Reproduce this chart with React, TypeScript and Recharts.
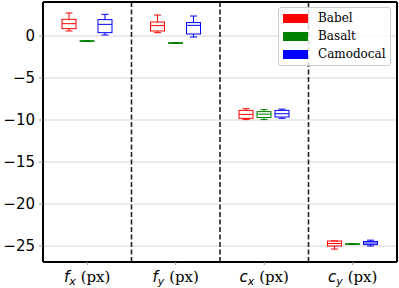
import { ComposedChart, Bar, XAxis, YAxis, CartesianGrid, Legend } from 'recharts';

// category labels: symbol + subscript
const categories = ['fx', 'fy', 'cx', 'cy'];
const yTicks = [0, -5, -10, -15, -20, -25];
const yDomain = [-26.9, 4.05];

// [whisker low, q1, median, q3, whisker high] per category
const babel = [
  [0.6, 0.88, 1.47, 1.99, 2.74],
  [0.4, 0.6, 1.24, 1.67, 2.5],
  [-9.95, -9.8, -9.33, -8.85, -8.65],
  [-25.36, -25.0, -24.7, -24.4, -24.4],
];
const basalt = [
  [-0.66, -0.63, -0.6, -0.57, -0.54],
  [-0.88, -0.85, -0.83, -0.81, -0.78],
  [-9.95, -9.7, -9.3, -9.0, -8.76],
  [-24.8, -24.78, -24.76, -24.74, -24.72],
];
const camodocal = [
  [0.12, 0.4, 1.39, 1.95, 2.58],
  [-0.12, 0.24, 1.27, 1.6, 2.38],
  [-9.8, -9.64, -9.25, -8.85, -8.7],
  [-25.0, -24.83, -24.64, -24.45, -24.3],
];

const series = [
  { key: 'babel', name: 'Babel', color: '#ff0000', stats: babel },
  { key: 'basalt', name: 'Basalt', color: '#008000', stats: basalt },
  { key: 'camodocal', name: 'Camodocal', color: '#0000ff', stats: camodocal },
];

const data = categories.map((name, i) => {
  const row: any = { name };
  series.forEach((s) => {
    const st = s.stats[i];
    row[s.key] = [st[0], st[4]];
    row[s.key + 'Stats'] = st;
  });
  return row;
});

function BoxShape(props: any) {
  const { x, y, width, height, payload, statsKey, color } = props;
  const st = payload[statsKey];
  const top = Math.min(y, y + height);
  const bot = Math.max(y, y + height);
  const span = st[4] - st[0];
  const py = (v: number) => (span === 0 ? top : top + ((st[4] - v) / span) * (bot - top));
  const cx = x + width / 2;
  const cap = width / 4;
  return (
    <g stroke={color} strokeWidth={1} fill="none">
      <line x1={cx} x2={cx} y1={py(st[4])} y2={py(st[3])} />
      <line x1={cx} x2={cx} y1={py(st[1])} y2={py(st[0])} />
      <line x1={cx - cap} x2={cx + cap} y1={py(st[4])} y2={py(st[4])} />
      <line x1={cx - cap} x2={cx + cap} y1={py(st[0])} y2={py(st[0])} />
      <rect x={x} y={py(st[3])} width={width} height={Math.max(py(st[1]) - py(st[3]), 0.5)} />
      <line x1={x} x2={x + width} y1={py(st[2])} y2={py(st[2])} />
    </g>
  );
}

function XTick(props: any) {
  const { x, y, payload } = props;
  const label: string = payload.value;
  return (
    <text x={x} y={y + 15} textAnchor="middle" fontSize={15} fill="#000">
      <tspan fontFamily="DejaVu Sans" fontStyle="italic">{label[0]}</tspan>
      <tspan fontFamily="DejaVu Sans" fontStyle="italic" fontSize={11} dy={3}>{label[1]}</tspan>
      <tspan fontFamily="DejaVu Serif" dy={-3}>{' (px)'}</tspan>
    </text>
  );
}

const fmt = (v: number) => (v < 0 ? '\u2212' + Math.abs(v) : String(v));

function LegendBox({ payload }: any) {
  return (
    <div
      style={{
        background: 'rgba(255,255,255,0.8)',
        border: '1px solid #cccccc',
        borderRadius: 3,
        padding: '1px 4px 2px 4px',
        fontFamily: 'DejaVu Serif',
        fontSize: 12,
        color: '#000',
      }}
    >
      {(payload || []).map((e: any) => (
        <div key={e.value} style={{ display: 'flex', alignItems: 'center', height: 18 }}>
          <span style={{ width: 25, height: 9, background: e.color, marginRight: 10, display: 'inline-block' }} />
          {e.value}
        </div>
      ))}
    </div>
  );
}

export default function App() {
  return (
    <div style={{ position: 'absolute', left: 0, top: 0 }}>
      <ComposedChart
        width={399}
        height={288}
        data={data}
        margin={{ top: 1, right: 1, bottom: 0, left: 0 }}
        barSize={14}
        barGap={4}
      >
        <CartesianGrid vertical={false} stroke="#d6d6d6" />
        <CartesianGrid
          horizontal={false}
          stroke="#222"
          strokeWidth={1.6}
          strokeDasharray="5 2.5"
          verticalCoordinatesGenerator={({ offset }: any) =>
            [1, 2, 3].map((i) => offset.left + (offset.width * i) / categories.length)
          }
        />
        <XAxis
          dataKey="name"
          height={26}
          tickSize={3}
          tickLine={{ stroke: '#999' }}
          axisLine={{ stroke: '#000', strokeWidth: 2 }}
          tick={<XTick />}
          interval={0}
        />
        <XAxis
          xAxisId="top"
          orientation="top"
          dataKey="name"
          height={1}
          tick={false}
          tickLine={false}
          axisLine={{ stroke: '#000', strokeWidth: 2 }}
        />
        <YAxis
          type="number"
          domain={yDomain}
          ticks={yTicks}
          allowDataOverflow
          width={43}
          tickSize={4}
          tickMargin={4}
          tickFormatter={fmt}
          tickLine={{ stroke: '#999' }}
          axisLine={{ stroke: '#000', strokeWidth: 2 }}
          tick={{ fill: '#000', fontSize: 15, fontFamily: 'DejaVu Sans' }}
        />
        <YAxis
          yAxisId="right"
          orientation="right"
          type="number"
          domain={yDomain}
          width={1}
          tick={false}
          tickLine={false}
          axisLine={{ stroke: '#000', strokeWidth: 2 }}
        />
        <Legend
          layout="horizontal"
          verticalAlign="middle"
          align="center"
          content={<LegendBox />}
          wrapperStyle={{ position: 'absolute', left: 278, top: 7, width: 113, height: 57 }}
        />
        {series.map((s) => (
          <Bar
            key={s.key}
            dataKey={s.key}
            name={s.name}
            fill={s.color}
            isAnimationActive={false}
            shape={(p: any) => <BoxShape {...p} statsKey={s.key + 'Stats'} color={s.color} />}
          />
        ))}
      </ComposedChart>
    </div>
  );
}
